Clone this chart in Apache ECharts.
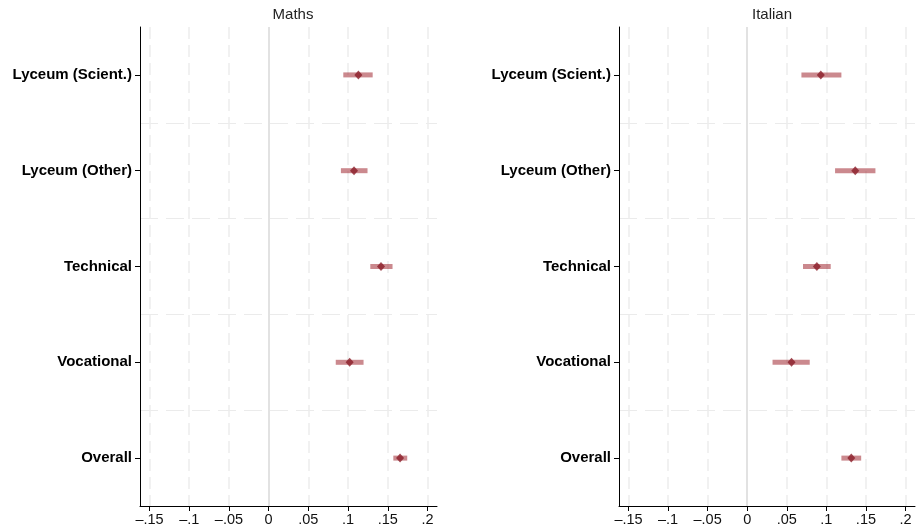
<!DOCTYPE html>
<html>
<head>
<meta charset="utf-8">
<script src="https://cdn.jsdelivr.net/npm/echarts@6/dist/echarts.min.js"></script>
<style>
  html, body { margin: 0; padding: 0; background: #fff; }
  #chart { width: 918px; height: 532px; }
</style>
</head>
<body>
<div id="chart"></div>
<script>
// School tracks, top to bottom
const categories = ['Lyceum (Scient.)', 'Lyceum (Other)', 'Technical', 'Vocational', 'Overall'];

// Maths: point estimates and confidence bounds
const mathsEst = [0.113, 0.1075, 0.1415, 0.102, 0.1655];
const mathsLo  = [0.094, 0.091, 0.128, 0.0845, 0.157];
const mathsHi  = [0.131, 0.1245, 0.156, 0.1195, 0.1745];

// Italian: point estimates and confidence bounds
const italianEst = [0.093, 0.1365, 0.088, 0.056, 0.1315];
const italianLo  = [0.0685, 0.111, 0.0705, 0.032, 0.119];
const italianHi  = [0.119, 0.162, 0.1055, 0.079, 0.144];

// x-axis ticks and their labels
const xTicks = [-0.15, -0.1, -0.05, 0, 0.05, 0.1, 0.15, 0.2];
const xTickLabels = ['\u2013.15', '\u2013.1', '\u2013.05', '0', '.05', '.1', '.15', '.2'];

const panelTitles = ['Maths', 'Italian'];
const X_MIN = -0.162, X_MAX = 0.212;

const FONT = '"Liberation Sans", Arial, Helvetica, sans-serif';
const CI_COLOR = 'rgba(160,40,50,0.55)';
const PT_COLOR = '#8a1d28';

const grids = [
  { left: 140, right: 481, top: 27, bottom: 26 },
  { left: 619, right: 3, top: 27, bottom: 26 }
];

function xAxisFor(i) {
  return {
    type: 'value', gridIndex: i, min: X_MIN, max: X_MAX,
    axisLine: { show: true, onZero: false, lineStyle: { color: '#000', width: 1 } },
    axisTick: { show: true, length: 5, customValues: xTicks, lineStyle: { color: '#000' } },
    axisLabel: {
      customValues: xTicks, margin: 6, fontSize: 14.5, color: '#111', fontFamily: FONT,
      formatter: v => {
        const k = xTicks.findIndex(t => Math.abs(t - v) < 1e-9);
        return k >= 0 ? xTickLabels[k] : '';
      }
    },
    splitLine: { show: false }
  };
}

function yAxisFor(i) {
  return {
    type: 'category', gridIndex: i, data: categories, inverse: true,
    axisLine: { show: true, onZero: false, lineStyle: { color: '#000', width: 1 } },
    axisTick: { show: true, alignWithLabel: true, length: 5, lineStyle: { color: '#000' } },
    axisLabel: { fontSize: 15, fontWeight: 'bold', color: '#000', fontFamily: FONT, margin: 8 },
    splitLine: {
      show: true, showMinLine: false, showMaxLine: false,
      lineStyle: { color: '#ebebeb', type: [18, 8], width: 1 }
    }
  };
}

function ciSeries(i, lo, hi) {
  return {
    type: 'custom', xAxisIndex: i, yAxisIndex: i, silent: true, z: 3,
    data: categories.map((c, k) => [lo[k], hi[k], k]),
    renderItem: (params, api) => {
      const a = api.coord([api.value(0), api.value(2)]);
      const b = api.coord([api.value(1), api.value(2)]);
      return {
        type: 'line',
        shape: { x1: a[0], y1: a[1], x2: b[0], y2: b[1] },
        style: { stroke: CI_COLOR, lineWidth: 5, lineCap: 'butt' }
      };
    },
    markLine: {
      silent: true, symbol: 'none', label: { show: false }, z: 1,
      data: xTicks.filter(t => t !== 0).map(t => ({
        xAxis: t, lineStyle: { color: '#ededed', type: [12, 6], width: 1.5 }
      })).concat([{ xAxis: 0, lineStyle: { color: '#d8d8d8', type: 'solid', width: 1.5 } }])
    }
  };
}

function pointSeries(i, est) {
  return {
    type: 'scatter', xAxisIndex: i, yAxisIndex: i, z: 4,
    symbol: 'diamond', symbolSize: [8, 9],
    itemStyle: { color: PT_COLOR },
    data: categories.map((c, k) => [est[k], c])
  };
}

const option = {
  backgroundColor: '#fff',
  animation: false,
  title: panelTitles.map((t, i) => ({
    text: t,
    left: i === 0 ? 288 : 767, textAlign: 'center', top: 2,
    textStyle: { fontSize: 15, fontWeight: 'normal', color: '#222', fontFamily: FONT }
  })),
  grid: grids,
  xAxis: [xAxisFor(0), xAxisFor(1)],
  yAxis: [yAxisFor(0), yAxisFor(1)],
  series: [
    ciSeries(0, mathsLo, mathsHi),
    pointSeries(0, mathsEst),
    ciSeries(1, italianLo, italianHi),
    pointSeries(1, italianEst)
  ]
};

const chart = echarts.init(document.getElementById('chart'), null, { renderer: 'canvas' });
chart.setOption(option);
</script>
</body>
</html>
